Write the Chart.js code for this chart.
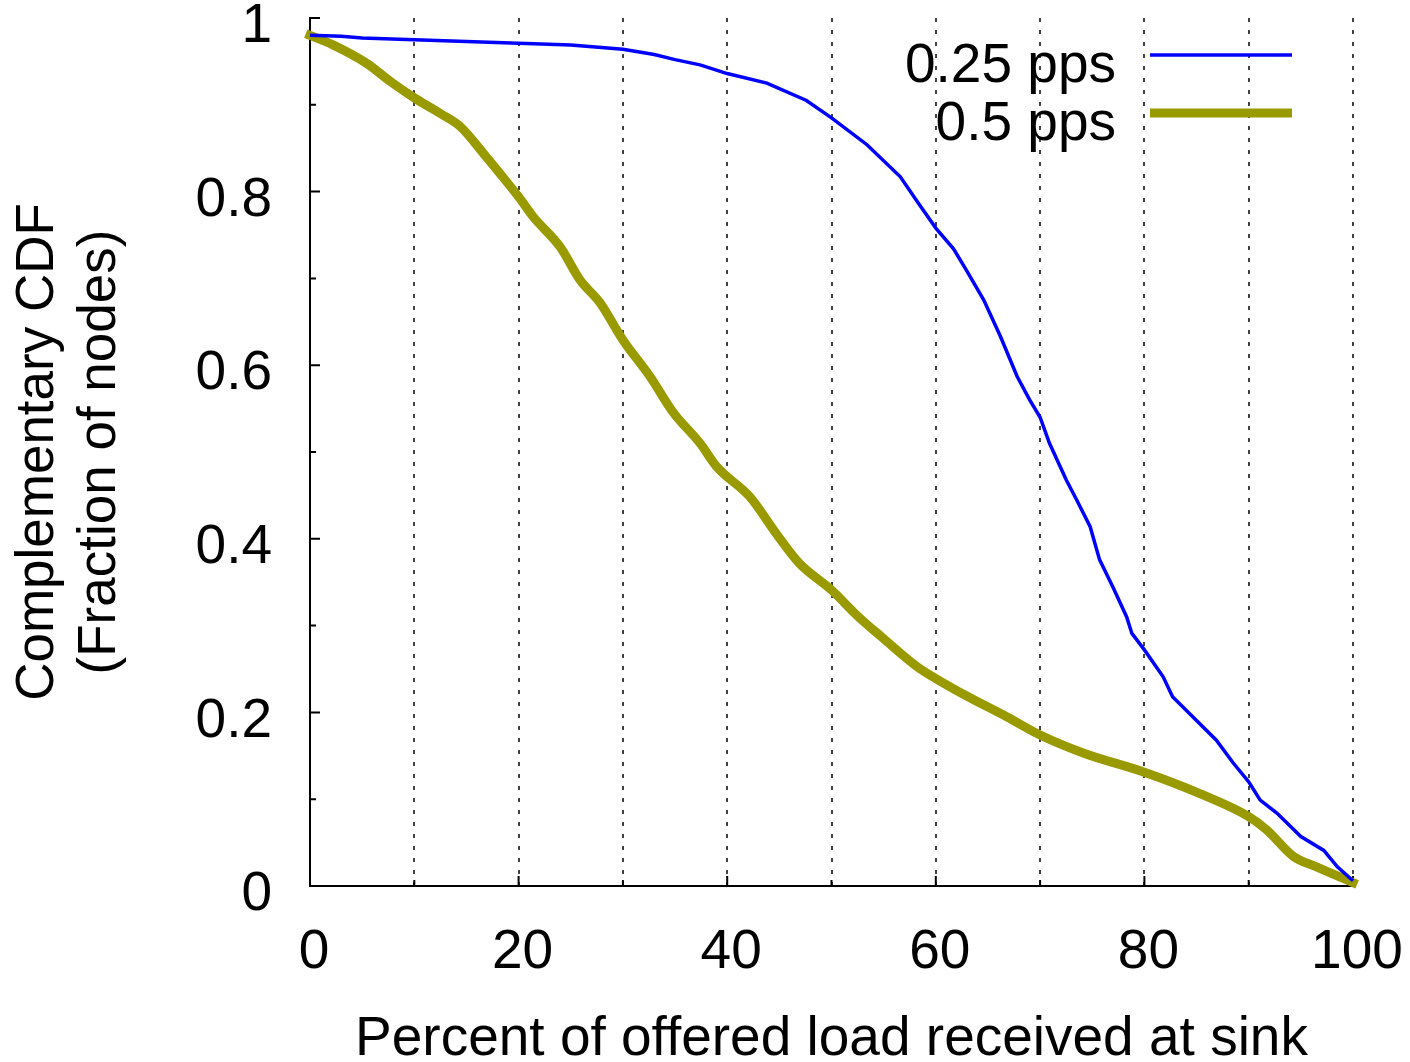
<!DOCTYPE html>
<html lang="en">
<head>
    <meta charset="UTF-8">
    <title>Complementary CDF of offered load received at sink</title>
    <script src="https://cdn.jsdelivr.net/npm/chart.js"></script>
    <style>
        body { margin: 0; background: #fff; }
        #wrap { width: 1410px; height: 1062px; }
    </style>
</head>
<body>
    <div id="wrap"><canvas id="myChart" width="1410" height="1062"></canvas></div>

    <script>
        // series: [percent of offered load, fraction of nodes]
        const loadQuarter = [0, 3, 5, 10, 15, 20, 25, 30, 33, 35, 37.4, 40, 43.8, 47.6, 50, 53.4, 56.6, 58.2, 60, 61.7, 63, 64.6, 66.2, 67.8, 69, 70, 70.9, 72.5, 73.5, 74.8, 75.7, 77, 78.3, 78.8, 80, 81.8, 82.7, 86.9, 88.5, 90, 91.1, 92.7, 95, 97.2, 98.5, 100];
        const ccdfQuarter = [0.980, 0.979, 0.977, 0.975, 0.973, 0.971, 0.969, 0.964, 0.958, 0.952, 0.946, 0.936, 0.925, 0.905, 0.885, 0.854, 0.817, 0.789, 0.758, 0.734, 0.708, 0.675, 0.633, 0.587, 0.560, 0.540, 0.510, 0.468, 0.445, 0.414, 0.376, 0.344, 0.310, 0.291, 0.272, 0.241, 0.218, 0.168, 0.142, 0.120, 0.099, 0.084, 0.057, 0.041, 0.022, 0.006];

        const loadHalf = [0, 2.2, 5.4, 7.7, 10, 12.5, 14.4, 16.9, 18.2, 20, 21.4, 24, 25.9, 27.8, 30, 32.6, 34.8, 37.4, 39, 42.2, 44.7, 46.9, 50, 52.6, 54.8, 58.4, 60, 63.1, 66.8, 70, 74.2, 80, 85.2, 90, 91.7, 94.3, 96.5, 100];
        const ccdfHalf = [0.980, 0.969, 0.948, 0.927, 0.908, 0.890, 0.875, 0.840, 0.821, 0.794, 0.771, 0.736, 0.698, 0.672, 0.629, 0.587, 0.546, 0.510, 0.483, 0.448, 0.406, 0.372, 0.341, 0.310, 0.287, 0.251, 0.239, 0.218, 0.195, 0.174, 0.153, 0.131, 0.107, 0.080, 0.065, 0.034, 0.022, 0.004];

        const seriesLabels = ['0.25 pps', '0.5 pps'];
        const xTitle = 'Percent of offered load received at sink';
        const yTitle = ['Complementary CDF', '(Fraction of nodes)'];

        const FONT = "'Liberation Sans', Arial, sans-serif";

        function toPoints(xs, ys) {
            return xs.map((x, i) => ({ x: x, y: ys[i] }));
        }

        // gnuplot style ticks pointing into the plot
        const inwardTicks = {
            id: 'inwardTicks',
            beforeDatasetsDraw(chart) {
                const ctx = chart.ctx;
                const xs = chart.scales.x, ys = chart.scales.y;
                const area = chart.chartArea;
                ctx.save();
                ctx.strokeStyle = '#000';
                ctx.lineWidth = 2;
                ctx.beginPath();
                for (let v = 0; v <= 100; v += 10) {
                    const px = xs.getPixelForValue(v);
                    const len = v % 20 === 0 ? 10 : 6;
                    ctx.moveTo(px, area.bottom);
                    ctx.lineTo(px, area.bottom - len);
                }
                for (let i = 0; i <= 10; i++) {
                    const py = ys.getPixelForValue(i / 10);
                    const len = i % 2 === 0 ? 10 : 6;
                    ctx.moveTo(area.left, py);
                    ctx.lineTo(area.left + len, py);
                }
                ctx.stroke();
                ctx.restore();
            }
        };

        // key in the top right corner, text left of the line sample
        const keyBox = {
            id: 'keyBox',
            afterDraw(chart) {
                const ctx = chart.ctx;
                const rows = [55, 113];
                ctx.save();
                ctx.font = '55px ' + FONT;
                ctx.textAlign = 'right';
                ctx.textBaseline = 'middle';
                chart.data.datasets.forEach((ds, i) => {
                    const y = rows[i];
                    ctx.fillStyle = '#000';
                    ctx.fillText(ds.label, 1116, y + 12);
                    ctx.strokeStyle = ds.borderColor;
                    ctx.lineWidth = ds.borderWidth;
                    ctx.beginPath();
                    ctx.moveTo(1150, y);
                    ctx.lineTo(1292, y);
                    ctx.stroke();
                });
                ctx.restore();
            }
        };

        const ctx = document.getElementById('myChart').getContext('2d');
        const chart = new Chart(ctx, {
            type: 'line',
            data: {
                datasets: [{
                    label: seriesLabels[0],
                    data: toPoints(loadQuarter, ccdfQuarter),
                    borderColor: '#0000ff',
                    borderWidth: 3.5,
                    pointRadius: 0,
                    tension: 0,
                    clip: false
                }, {
                    label: seriesLabels[1],
                    data: toPoints(loadHalf, ccdfHalf),
                    borderColor: '#999900',
                    borderWidth: 9,
                    borderCapStyle: 'square',
                    borderJoinStyle: 'round',
                    pointRadius: 0,
                    cubicInterpolationMode: 'monotone',
                    clip: false
                }]
            },
            options: {
                responsive: false,
                animation: false,
                events: [],
                layout: { padding: { top: 18, right: 57, left: 0, bottom: 0 } },
                plugins: {
                    legend: { display: false },
                    tooltip: { enabled: false }
                },
                scales: {
                    x: {
                        type: 'linear',
                        min: 0,
                        max: 100,
                        afterFit: (scale) => {
                            scale.height = 176;
                            scale.paddingLeft = 0;
                            scale.paddingRight = 0;
                        },
                        ticks: {
                            stepSize: 10,
                            padding: 34,
                            labelOffset: 4,
                            color: '#000',
                            font: { family: FONT, size: 55 },
                            maxRotation: 0,
                            autoSkip: false,
                            callback: (v) => (v % 20 === 0 ? String(v) : '')
                        },
                        grid: {
                            drawTicks: false,
                            lineWidth: 2,
                            color: (c) => (c.tick && c.tick.value === 0 ? 'rgba(0,0,0,0)' : '#444')
                        },
                        border: { display: true, color: '#000', width: 2, dash: [4, 8] },
                        title: {
                            display: true,
                            text: xTitle,
                            color: '#000',
                            font: { family: FONT, size: 55, lineHeight: 0.8 },
                            padding: { top: 0, bottom: 0 }
                        }
                    },
                    y: {
                        min: 0,
                        max: 1,
                        afterFit: (scale) => {
                            scale.width = 310;
                            scale.paddingTop = 0;
                            scale.paddingBottom = 0;
                        },
                        ticks: {
                            stepSize: 0.2,
                            padding: 38,
                            labelOffset: 9,
                            color: '#000',
                            font: { family: FONT, size: 55, lineHeight: 0.5 },
                            callback: (v) => String(+v.toFixed(1))
                        },
                        grid: { display: false, drawTicks: false },
                        border: { display: true, color: '#000', width: 2 },
                        title: {
                            display: true,
                            text: yTitle,
                            color: '#000',
                            font: { family: FONT, size: 53, lineHeight: 1.17 },
                            padding: { top: 7, bottom: 0 }
                        }
                    }
                }
            },
            plugins: [inwardTicks, keyBox]
        });
    </script>
</body>
</html>
